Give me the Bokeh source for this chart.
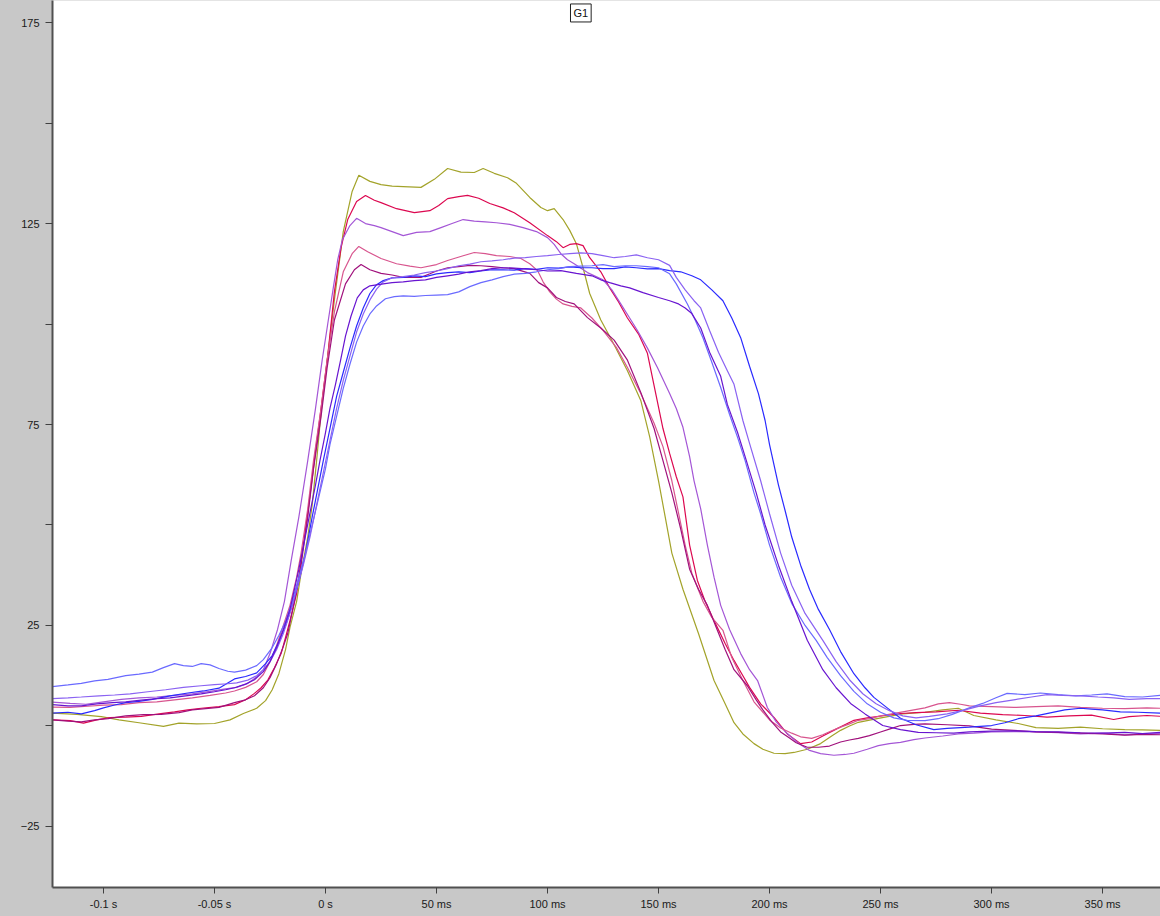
from bokeh.plotting import figure
from bokeh.models import Range1d, FixedTicker, Label
from bokeh.embed import file_html
from bokeh.resources import INLINE

# ---- data: (time in ms, value) per trace ----
OLIVE = [(-123, 3.2), (-112, 2.9), (-101, 2.3), (-93, 1.5), (-84, 0.8), (-73, -0.1), (-66, 0.7), (-58, 0.5),
         (-50, 0.6), (-43, 1.5), (-37, 3.1), (-31, 4.4), (-27, 6.3), (-24, 9.0), (-21, 13.0), (-18, 19.0),
         (-16, 24.5), (-13, 31.0), (-11, 38.0), (-8, 47.0), (-6, 55.0), (-4, 66.0), (-2, 78.0), (1, 92.0),
         (4, 106.0), (8, 123.0), (12, 133.0), (15, 137.0), (20, 135.5), (25, 134.7), (30, 134.3), (35, 134.2),
         (43, 134.0), (49, 136.0), (55, 138.7), (61, 137.8), (67, 137.7), (71, 138.7), (76, 137.5), (82, 136.4),
         (86, 135.0), (92, 131.5), (97, 129.0), (100, 128.2), (103, 128.7), (107, 126.0), (110, 123.3),
         (113, 120.0), (116, 114.0), (119, 107.6), (124, 101.0), (129, 95.9), (136, 88.4), (142, 81.0),
         (146, 72.0), (150, 61.0), (153, 52.0), (156, 43.0), (161, 34.0), (168, 23.0), (175, 11.3), (180, 5.5),
         (184, 0.8), (188, -2.0), (193, -4.4), (197, -5.8), (202, -6.8), (207, -6.9), (211, -6.6), (217, -5.8),
         (223, -4.4), (228, -2.5), (232, -1.1), (236, 0.0), (240, 0.9), (249, 1.9), (260, 3.0), (270, 3.4),
         (278, 4.0), (285, 4.4), (292, 2.6), (302, 1.5), (312, 0.6), (320, -0.4), (330, -0.6), (340, -0.3),
         (350, -0.7), (360, -0.9), (368, -1.0), (376, -1.1)]

CRIMSON = [(-123, 1.5), (-115, 1.3), (-109, 0.7), (-103, 1.5), (-97, 2.1), (-90, 2.2), (-83, 2.4), (-75, 3.0),
           (-68, 3.5), (-62, 4.0), (-56, 4.4), (-48, 4.8), (-41, 5.3), (-36, 6.5), (-32, 8.1), (-29, 9.5),
           (-26, 11.4), (-23, 14.5), (-20, 18.0), (-18, 22.0), (-16, 26.2), (-13, 33.0), (-11, 41.0), (-8, 53.0),
           (-5, 66.0), (-2, 79.0), (1, 92.0), (4, 108.0), (7, 119.0), (10, 126.0), (14, 130.5), (18, 132.0),
           (22, 130.8), (25, 130.2), (32, 128.7), (40, 127.7), (47, 128.2), (51, 129.5), (55, 131.2), (60, 131.7),
           (64, 132.0), (69, 131.3), (74, 130.0), (80, 128.9), (85, 127.7), (92, 125.2), (100, 122.0),
           (104, 120.5), (107, 119.0), (110, 119.8), (113, 120.0), (116, 119.5), (119, 116.5), (124, 113.0),
           (128, 109.0), (132, 105.5), (136, 101.5), (141, 97.5), (145, 92.7), (149, 82.0), (152, 74.0),
           (155, 67.8), (158, 62.0), (161, 57.0), (164, 45.0), (167.5, 36.2), (171, 31.0), (175, 26.2),
           (180, 20.5), (184, 16.3), (188, 12.5), (191, 9.6), (196, 5.5), (202, 2.1), (208, -2.0), (214, -4.4),
           (219, -4.0), (224, -2.5), (230, -0.8), (238, 1.4), (244, 2.0), (252, 2.6), (259, 3.1), (266, 3.3),
           (275, 3.5), (285, 3.9), (295, 3.2), (305, 2.8), (315, 2.6), (325, 2.2), (335, 2.5), (345, 2.7),
           (355, 1.6), (362, 2.3), (370, 2.6), (376, 2.4)]

VIOLET = [(-123, 5.9), (-115, 5.6), (-108, 5.4), (-100, 6.0), (-92, 6.6), (-84, 7.0), (-76, 7.2), (-68, 7.6),
          (-60, 8.0), (-52, 8.6), (-45, 9.2), (-40, 9.6), (-35, 10.6), (-31, 12.2), (-28, 14.0), (-25, 18.0),
          (-21.6, 24.0), (-18.5, 31.0), (-15.5, 41.0), (-12, 52.0), (-8, 66.0), (-4.5, 79.0), (-1.5, 91.0),
          (1, 100.0), (3.5, 109.0), (5.5, 116.0), (7.6, 121.0), (11, 124.5), (14, 126.3), (18, 125.0),
          (22, 124.5), (25, 124.0), (30, 123.0), (35, 122.0), (41, 122.8), (47, 123.0), (52, 124.0), (57, 125.0),
          (62, 126.0), (67, 125.6), (72, 125.4), (77, 125.2), (83, 124.8), (89, 124.0), (95, 123.0),
          (100, 121.5), (103, 119.8), (106, 117.5), (109, 116.0), (112, 115.0), (118, 112.8), (125, 111.0),
          (129, 108.5), (133, 105.0), (137, 101.5), (140.5, 98.4), (145, 94.0), (149.5, 89.2), (155, 82.7),
          (158, 79.0), (161, 74.3), (164, 67.0), (166, 61.0), (169, 54.0), (172, 45.0), (175, 37.0), (178, 30.0),
          (182, 24.0), (187, 18.0), (191, 14.0), (194.6, 11.3), (199, 4.6), (203, 1.0), (208, -1.9),
          (213, -4.3), (218, -6.1), (223, -6.9), (229, -7.3), (234, -7.1), (238, -6.8), (244, -5.8), (249, -4.9),
          (254, -4.4), (259, -4.1), (265, -3.4), (270, -3.0), (278, -2.5), (285, -2.0), (292, -1.8), (300, -1.5),
          (310, -1.4), (320, -1.5), (330, -1.7), (340, -2.0), (350, -1.8), (360, -2.2), (368, -2.0), (376, -1.9)]

PINK = [(-123, 4.7), (-115, 4.6), (-107, 4.9), (-100, 5.2), (-92, 5.3), (-84, 5.8), (-76, 6.0), (-68, 6.5),
        (-60, 7.0), (-52, 7.6), (-45, 8.2), (-41, 8.7), (-36, 9.6), (-31, 11.0), (-28, 12.8), (-25, 16.0),
        (-22, 20.0), (-19, 25.0), (-16, 30.0), (-13, 37.0), (-11, 43.0), (-8, 54.0), (-5.4, 66.0), (-2, 79.0),
        (0.7, 91.0), (4, 103.0), (8, 113.0), (12, 117.5), (15, 119.3), (19, 118.0), (25, 116.3), (32, 115.0),
        (38, 114.4), (43, 114.0), (50, 114.8), (55, 115.8), (62, 117.0), (67, 117.8), (72, 117.5), (77, 117.0),
        (83, 116.8), (88, 116.3), (92, 115.0), (95.5, 113.3), (98, 110.5), (101, 108.0), (104, 106.2),
        (107, 105.0), (111, 104.4), (115, 104.0), (120, 101.5), (125, 98.4), (131, 94.2), (136, 89.2),
        (142, 82.7), (148, 75.3), (152, 69.5), (156, 61.0), (159, 53.0), (162, 45.0), (165, 38.0), (170, 31.0),
        (174, 27.0), (179, 23.8), (183, 17.0), (188, 11.3), (193, 6.0), (200, 1.5), (205, -0.5), (210, -1.8),
        (214, -2.7), (219, -3.1), (224, -2.2), (228, -1.2), (232, -0.3), (236, 0.5), (240, 1.4), (245, 1.8),
        (250, 2.5), (260, 3.5), (270, 4.5), (276, 5.5), (281, 5.8), (286, 5.4), (290, 5.0), (300, 4.8),
        (310, 4.6), (320, 4.8), (330, 5.0), (340, 4.6), (350, 4.4), (360, 4.3), (370, 4.5), (376, 4.4)]

MAGENTA = [(-123, 1.5), (-116, 1.2), (-110, 1.0), (-104, 1.5), (-98, 1.8), (-90, 2.5), (-82, 2.8), (-74, 2.9),
           (-66, 3.3), (-60, 4.0), (-54, 4.3), (-48, 4.6), (-41, 5.8), (-36, 6.5), (-32, 7.5), (-28, 9.5),
           (-25, 12.0), (-22, 15.5), (-19.5, 19.0), (-17, 23.0), (-14, 31.0), (-11, 40.0), (-8, 52.0),
           (-5.4, 64.0), (-2, 77.0), (0.7, 89.0), (4, 101.0), (9, 110.0), (13, 113.5), (16, 114.8), (20, 113.5),
           (25, 112.6), (30, 112.2), (35, 111.6), (43, 111.6), (47, 112.5), (50, 113.2), (55, 114.0), (60, 114.3),
           (65, 114.6), (70, 114.5), (75, 114.3), (80, 114.0), (85, 113.8), (92, 112.6), (96, 110.3), (100, 109.0),
           (104, 106.6), (108, 105.6), (112, 105.0), (118, 101.6), (124, 99.0), (130, 96.0), (136, 91.0),
           (142, 83.0), (148, 74.0), (152, 66.0), (156, 58.0), (160, 49.0), (164, 39.0), (168, 34.0), (172, 30.0),
           (176.5, 23.8), (180, 19.0), (184, 14.0), (190, 10.0), (194, 6.5), (197, 4.0), (201, 1.0), (205, -1.5),
           (209, -3.0), (212, -4.2), (217, -5.3), (222, -5.3), (227, -5.0), (232, -4.0), (236, -3.5), (240, -3.1),
           (245, -2.4), (250, -1.5), (255, -0.6), (259, 0.1), (265, 0.4), (270, 0.5), (280, 0.3), (290, 0.0),
           (300, -0.8), (310, -1.1), (320, -1.5), (330, -1.6), (340, -1.8), (350, -2.0), (360, -2.3), (368, -2.1),
           (376, -2.2)]

BLUE = [(-123, 3.2), (-116, 3.4), (-110, 3.0), (-104, 3.8), (-100, 4.5), (-95, 5.2), (-90, 5.8), (-84, 6.1),
        (-78, 6.6), (-70, 7.5), (-62, 8.2), (-55, 8.7), (-48, 9.4), (-41, 11.7), (-36, 12.3), (-31, 13.2),
        (-27, 15.5), (-24, 17.5), (-21, 21.0), (-18, 25.0), (-15, 30.0), (-12, 36.0), (-9, 43.0), (-6, 52.0),
        (-3.5, 59.0), (-1, 66.0), (2, 74.0), (5, 82.0), (8, 88.0), (11, 94.0), (14, 99.5), (17, 104.0),
        (20, 107.6), (23, 109.8), (26, 110.8), (30, 111.5), (35, 111.6), (40, 112.0), (45, 111.8), (50, 112.5),
        (55, 112.8), (60, 113.0), (65, 112.8), (70, 113.2), (75, 113.5), (80, 113.5), (85, 113.4), (90, 113.8),
        (95, 113.6), (100, 114.0), (105, 113.9), (110, 114.2), (115, 114.0), (120, 114.0), (125, 113.8),
        (130, 113.8), (135, 114.2), (140, 114.0), (145, 113.7), (150, 113.8), (155, 113.3), (160, 113.0),
        (165, 112.0), (169, 111.0), (174, 108.5), (179, 105.8), (183, 101.5), (187, 96.6), (191, 89.5),
        (195, 82.7), (198, 76.0), (200, 70.0), (204, 60.0), (207, 53.6), (210, 47.0), (214, 40.0), (218, 34.0),
        (222, 29.0), (227, 24.0), (232, 18.5), (238, 13.0), (243, 9.5), (247, 7.1), (253, 4.5), (259, 1.9),
        (266, 0.3), (274, -0.9), (280, -0.6), (290, -0.3), (300, 0.1), (306, 0.8), (312, 1.8), (320, 2.5),
        (327, 3.3), (333, 4.0), (340, 4.4), (345, 4.2), (350, 4.0), (358, 3.5), (366, 3.4), (376, 3.2)]

PERIWINKLE = [(-123, 9.8), (-116, 10.2), (-110, 10.6), (-104, 11.2), (-98, 11.6), (-90, 12.5), (-84, 12.9),
              (-78, 13.4), (-73, 14.5), (-68, 15.5), (-64, 15.0), (-60, 14.8), (-56, 15.5), (-52, 15.2),
              (-48, 14.3), (-44, 13.6), (-41, 13.4), (-36, 13.9), (-31, 15.0), (-28, 16.5), (-24, 19.5),
              (-21, 22.5), (-18, 26.0), (-15, 31.0), (-12, 37.0), (-9, 43.0), (-6, 50.0), (-3, 57.0), (0, 64.0),
              (2, 70.0), (5, 77.0), (8, 84.0), (11, 90.0), (14, 95.5), (17, 99.5), (20, 102.5), (23, 104.5),
              (27, 106.3), (31, 106.8), (35, 107.0), (40, 106.9), (45, 107.1), (50, 107.2), (55, 107.3),
              (60, 108.0), (65, 109.3), (70, 110.3), (75, 111.0), (80, 111.8), (85, 112.4), (90, 112.6),
              (95, 113.0), (100, 113.5), (105, 113.8), (110, 114.3), (115, 114.4), (120, 114.5), (125, 114.8),
              (130, 114.3), (135, 114.5), (140, 114.5), (145, 114.3), (150, 114.0), (155, 112.5), (158, 110.0),
              (163, 105.0), (166.5, 101.0), (170, 96.6), (174, 90.5), (178, 84.2), (182, 77.5), (185.6, 71.8),
              (189, 66.0), (193, 58.0), (196, 52.8), (200, 45.0), (205, 37.0), (210, 30.5), (216, 25.0),
              (221, 21.3), (226, 17.0), (232, 12.5), (238, 8.6), (244, 5.5), (250, 3.4), (256, 2.0), (262, 1.4),
              (270, 1.3), (276, 1.8), (282, 2.8), (290, 4.5), (296, 5.6), (302, 7.0), (307, 8.1), (315, 7.8),
              (322, 8.2), (330, 7.8), (338, 7.5), (345, 7.7), (352, 8.0), (360, 7.3), (368, 7.2), (376, 7.6)]

SLATE = [(-123, 6.8), (-116, 7.0), (-110, 7.2), (-102, 7.5), (-95, 7.7), (-88, 8.0), (-80, 8.5), (-72, 9.0),
         (-64, 9.6), (-56, 10.0), (-50, 10.3), (-44, 10.5), (-40, 10.7), (-35, 11.4), (-31, 12.5), (-28, 14.0),
         (-25, 16.0), (-22, 19.0), (-19, 23.0), (-16, 28.0), (-13, 34.0), (-10, 40.0), (-7, 47.0), (-4, 55.0),
         (-1, 63.0), (2, 71.0), (5, 79.0), (8, 86.0), (11, 92.0), (14, 98.0), (17, 102.5), (20, 106.0),
         (23, 108.7), (26, 110.5), (30, 111.5), (35, 111.8), (40, 112.2), (45, 112.8), (50, 113.2), (55, 113.8),
         (60, 114.5), (65, 114.9), (70, 115.5), (75, 115.7), (80, 116.0), (85, 116.4), (90, 116.5), (95, 116.8),
         (100, 117.0), (105, 117.3), (110, 117.5), (115, 117.7), (120, 117.5), (125, 117.0), (130, 116.5),
         (135, 116.8), (140, 117.2), (145, 116.5), (150, 116.0), (155, 114.6), (158, 111.6), (162, 108.5),
         (166, 105.8), (169, 104.0), (173, 98.4), (177, 93.0), (181, 88.4), (184, 85.0), (188, 76.0),
         (191, 70.3), (196, 61.0), (200, 52.8), (205, 43.0), (210, 35.0), (216, 28.0), (224, 21.3), (230, 16.0),
         (236, 11.5), (242, 8.0), (248, 5.5), (254, 3.8), (260, 2.5), (266, 2.0), (272, 2.4), (280, 3.0),
         (288, 4.0), (295, 5.0), (302, 5.8), (310, 6.5), (318, 7.2), (325, 7.8), (332, 7.6), (340, 7.5),
         (348, 7.2), (355, 7.0), (362, 6.6), (370, 6.8), (376, 6.8)]

INDIGO = [(-123, 5.3), (-116, 5.0), (-110, 5.0), (-103, 5.5), (-96, 5.8), (-90, 6.0), (-83, 6.4), (-76, 6.8),
          (-70, 7.0), (-63, 7.5), (-56, 8.0), (-50, 8.5), (-45, 9.0), (-41, 9.5), (-36, 10.4), (-32, 11.5),
          (-28, 13.5), (-25, 16.0), (-22, 19.5), (-19, 24.0), (-16, 29.0), (-12, 39.0), (-9.5, 46.0), (-7, 53.0),
          (-4.5, 60.0), (-2.5, 66.0), (0, 73.0), (2, 79.0), (4.5, 85.0), (6.8, 91.0), (9, 97.0), (11.5, 102.0),
          (14.3, 106.5), (17, 108.5), (20, 109.5), (26, 110.0), (30, 110.3), (35, 110.5), (40, 110.8),
          (45, 111.0), (50, 111.6), (55, 112.0), (60, 112.4), (65, 113.0), (70, 113.3), (75, 113.8), (80, 114.0),
          (85, 113.9), (90, 113.7), (95, 113.5), (100, 113.2), (106, 113.3), (113, 112.6), (120, 112.0),
          (124, 111.0), (128, 110.3), (133, 109.5), (137, 109.0), (143, 107.8), (150, 106.6), (155, 105.8),
          (159, 105.0), (162, 104.0), (165, 102.6), (169, 99.0), (173, 93.0), (178, 87.0), (181, 80.0),
          (185.6, 73.0), (189, 67.0), (194, 58.0), (198, 50.0), (204, 40.0), (210, 31.0), (217, 21.3),
          (224, 14.0), (230, 9.5), (236.5, 5.6), (243, 3.0), (251, 0.1), (259, -0.9), (267, -1.6), (275, -1.7),
          (283, -1.8), (290, -1.5), (300, -1.3), (310, -1.2), (320, -1.4), (330, -1.5), (340, -1.7), (350, -1.8),
          (360, -1.6), (368, -1.9), (376, -1.6)]

SERIES = [OLIVE, CRIMSON, VIOLET, PINK, MAGENTA, BLUE, PERIWINKLE, SLATE, INDIGO]
COLORS = ["#a3a32a", "#dc0850", "#a456d6", "#d8558e", "#a0107c", "#2a2aff", "#6a6aff", "#8a62f2", "#6814d0"]

Y_TICKS = [-25, 25, 75, 125, 175]
Y_MINOR = [0, 50, 100, 150]
X_TICKS = [-100, -50, 0, 50, 100, 150, 200, 250, 300, 350]
X_LABELS = ["-0.1 s", "-0.05 s", "0 s", "50 ms", "100 ms", "150 ms", "200 ms", "250 ms", "300 ms", "350 ms"]
TITLE = "G1"

# ---- figure ----
p = figure(width=1160, height=916, output_backend="svg", toolbar_location=None,
           x_range=Range1d(-122.97, 376.1), y_range=Range1d(-40.2, 180.5),
           min_border_left=52, min_border_right=0, min_border_top=0, min_border_bottom=29)
p.background_fill_color = "white"
p.border_fill_color = "#c8c8c8"
p.outline_line_color = None
p.xgrid.visible = False
p.ygrid.visible = False

for pts, col in zip(SERIES, COLORS):
    t = [a for a, b in pts]
    v = [b for a, b in pts]
    p.line(t, v, line_color=col, line_width=1.2)

for ax in (p.xaxis[0], p.yaxis[0]):
    ax.axis_line_color = "#505050"
    ax.axis_line_width = 2
    ax.major_tick_line_color = "#404040"
    ax.major_tick_in = 0
    ax.minor_tick_in = 0
    ax.major_label_text_font = "Liberation Sans"
    ax.major_label_text_font_size = "11px"
    ax.major_label_text_color = "#1a1a1a"

p.yaxis.ticker = FixedTicker(ticks=Y_TICKS, minor_ticks=Y_MINOR)
p.yaxis.major_tick_out = 7
p.yaxis.minor_tick_out = 7
p.yaxis.minor_tick_line_color = "#404040"
p.yaxis.major_label_standoff = 6

p.xaxis.ticker = FixedTicker(ticks=X_TICKS)
p.xaxis.major_label_overrides = {k: lab for k, lab in zip(X_TICKS, X_LABELS)}
p.xaxis.major_tick_out = 6
p.xaxis.minor_tick_line_color = None
p.xaxis.major_label_standoff = 4

p.add_layout(Label(x=115, y=177.4, text=TITLE, text_font="Liberation Sans", text_font_size="11px",
                   text_align="center", text_baseline="middle", text_color="#111111",
                   border_line_color="#222222", border_line_width=1, background_fill_color="white",
                   padding=3))

html = file_html(p, INLINE)
html = html.replace("</head>", "<style>body{background:#c8c8c8;}</style></head>", 1)
open("out.html", "w").write(html)
